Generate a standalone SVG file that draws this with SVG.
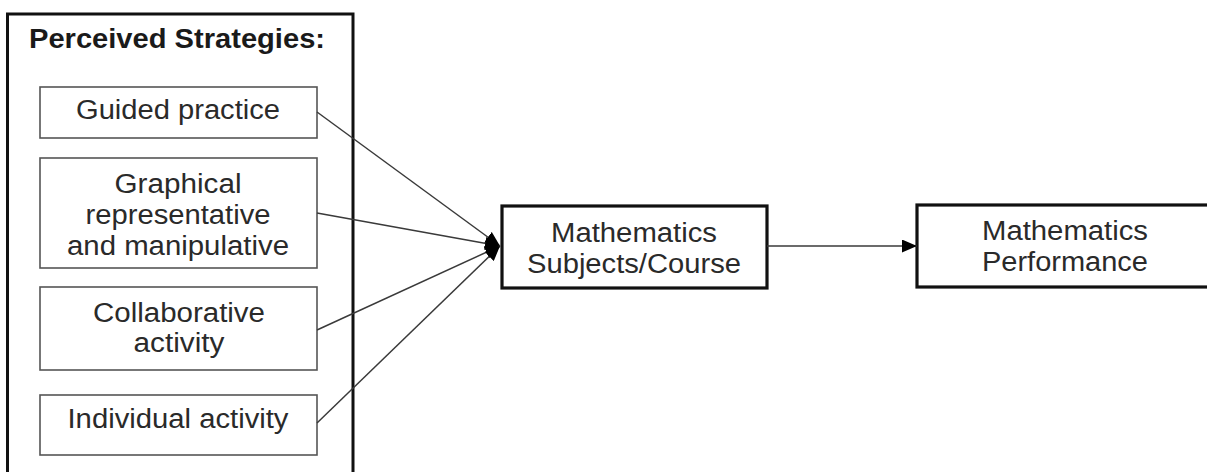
<svg xmlns="http://www.w3.org/2000/svg" width="1207" height="472" viewBox="0 0 1207 472">
<style>
  .outer{fill:none;stroke:#111;stroke-width:3}
  .inner{fill:#fff;stroke:#555;stroke-width:1.6}
  .main{fill:#fff;stroke:#111;stroke-width:3.2}
  .t{font-family:"Liberation Sans",Arial,sans-serif;font-size:27px;fill:#2a2a2a;text-anchor:middle}
  .title{font-weight:bold;fill:#1a1a1a}
  .conn{stroke:#3a3a3a;stroke-width:1.5;fill:none;marker-end:url(#ah)}
</style>
<defs>
  <marker id="ah" viewBox="0 0 15 13" refX="15" refY="6.5" markerWidth="15" markerHeight="13" markerUnits="userSpaceOnUse" orient="auto">
    <path d="M0,0 L15,6.5 L0,13 z" fill="#000"/>
  </marker>
</defs>
<rect width="1207" height="472" fill="#fff"/>
<g id="strategies">
  <rect class="outer" x="7.5" y="14" width="345.5" height="470"/>
  <text class="t title" x="177" y="48" textLength="296" lengthAdjust="spacingAndGlyphs">Perceived Strategies:</text>
</g>
<g id="guided">
  <rect class="inner" x="40" y="87" width="277" height="51"/>
  <text class="t" x="178" y="119" textLength="204" lengthAdjust="spacingAndGlyphs">Guided practice</text>
</g>
<g id="graphical">
  <rect class="inner" x="40" y="158" width="277" height="110"/>
  <text class="t" x="178" y="193" textLength="127" lengthAdjust="spacingAndGlyphs">Graphical</text>
  <text class="t" x="178" y="224" textLength="185" lengthAdjust="spacingAndGlyphs">representative</text>
  <text class="t" x="178" y="255" textLength="222" lengthAdjust="spacingAndGlyphs">and manipulative</text>
</g>
<g id="collaborative">
  <rect class="inner" x="40" y="287" width="277" height="83"/>
  <text class="t" x="179" y="322" textLength="172" lengthAdjust="spacingAndGlyphs">Collaborative</text>
  <text class="t" x="179" y="352" textLength="91" lengthAdjust="spacingAndGlyphs">activity</text>
</g>
<g id="individual">
  <rect class="inner" x="40" y="395" width="277" height="60"/>
  <text class="t" x="178" y="428" textLength="221" lengthAdjust="spacingAndGlyphs">Individual activity</text>
</g>
<g id="subjects">
  <rect class="main" x="502" y="206" width="265" height="82"/>
  <text class="t" x="634" y="242" textLength="166" lengthAdjust="spacingAndGlyphs">Mathematics</text>
  <text class="t" x="634" y="273" textLength="214" lengthAdjust="spacingAndGlyphs">Subjects/Course</text>
</g>
<g id="performance">
  <rect class="main" x="917" y="205" width="320" height="82"/>
  <text class="t" x="1065" y="240" textLength="166" lengthAdjust="spacingAndGlyphs">Mathematics</text>
  <text class="t" x="1065" y="271" textLength="166" lengthAdjust="spacingAndGlyphs">Performance</text>
</g>
<g id="connectors">
  <line class="conn" x1="317" y1="112" x2="500" y2="246"/>
  <line class="conn" x1="317" y1="213" x2="500" y2="246"/>
  <line class="conn" x1="317" y1="330" x2="500" y2="246"/>
  <line class="conn" x1="317" y1="423" x2="500" y2="246"/>
  <line class="conn" x1="767" y1="246" x2="917" y2="246"/>
</g>
</svg>
